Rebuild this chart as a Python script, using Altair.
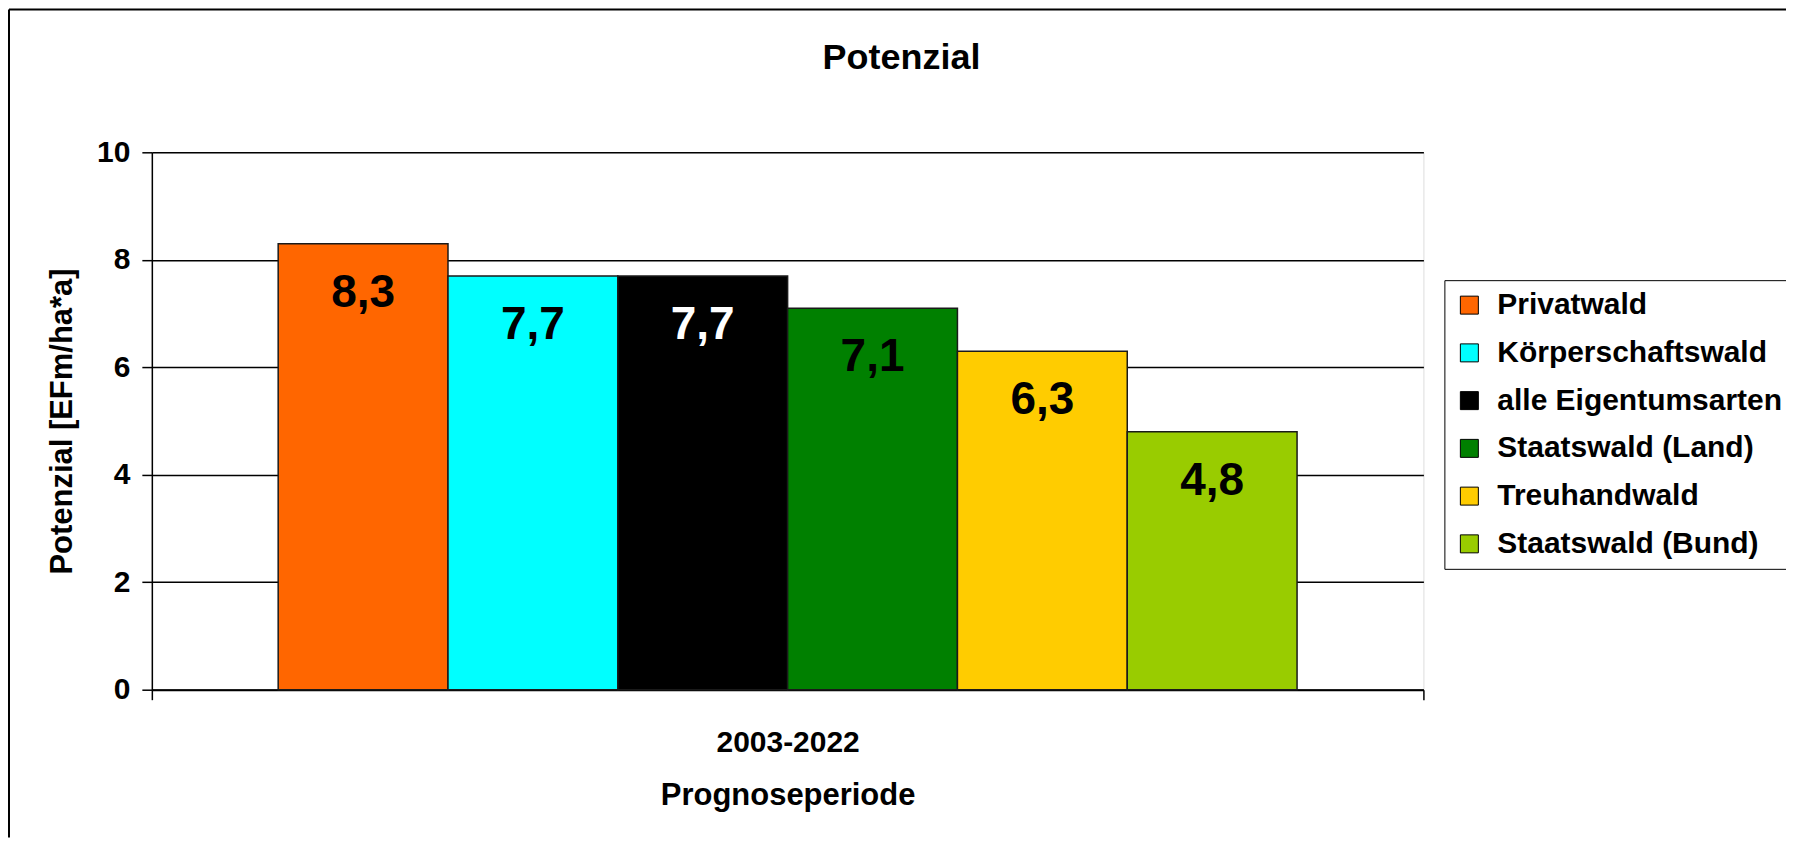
import altair as alt
import pandas as pd

# ---- data ----
categories = ["Privatwald", "Körperschaftswald", "alle Eigentumsarten",
              "Staatswald (Land)", "Treuhandwald", "Staatswald (Bund)"]
values = [8.3, 7.7, 7.7, 7.1, 6.3, 4.8]
colors = ["#FF6600", "#00FFFF", "#000000", "#008000", "#FFCC00", "#99CC00"]
period = ["2003-2022"] * len(categories)
y_ticks = [0, 2, 4, 6, 8, 10]

df = pd.DataFrame({"Periode": period, "Eigentumsart": categories, "Potenzial": values})

W, H = 1273, 538
FONT = "Liberation Sans"

base = alt.Chart(df).transform_calculate(
    lbl="replace(format(datum.Potenzial, '.1f'), '.', ',')"
).encode(
    x=alt.X(
        "Periode:N",
        title="Prognoseperiode",
        scale=alt.Scale(paddingInner=0, paddingOuter=0),
        axis=alt.Axis(
            labelAngle=0, labelFontSize=30, labelFontWeight="bold", labelFont=FONT,
            labelColor="black", labelPadding=28,
            tickBand="extent", tickSize=10, tickColor="black", tickWidth=1.5,
            domainColor="black", domainWidth=2, grid=False,
            titleFontSize=31, titleFontWeight="bold", titleFont=FONT, titleColor="black",
            titleY=91, titleBaseline="top", titleX=W / 2, titleAlign="center",
        ),
    ),
    xOffset=alt.XOffset(
        "Eigentumsart:N", sort=categories,
        scale=alt.Scale(paddingInner=0, paddingOuter=0.744),
    ),
    y=alt.Y(
        "Potenzial:Q",
        title="Potenzial [EFm/ha*a]",
        scale=alt.Scale(domain=[0, 10], nice=False),
        axis=alt.Axis(
            values=y_ticks, labelFontSize=30, labelFontWeight="bold", labelFont=FONT,
            labelColor="black", labelPadding=12,
            tickSize=10, tickColor="black", tickWidth=1.5,
            grid=True, gridColor="black", gridWidth=1.5, gridOpacity=1,
            domainColor="black", domainWidth=1.5,
            titleFontSize=31, titleFontWeight="bold", titleFont=FONT, titleColor="black",
            titleX=-80, titleY=H / 2, titleAlign="center", titleBaseline="alphabetic",
            titleAngle=270,
        ),
    ),
)

bars = base.mark_bar(stroke="#1a1a1a", strokeWidth=1.5).encode(
    color=alt.Color(
        "Eigentumsart:N", sort=categories,
        scale=alt.Scale(domain=categories, range=colors),
        legend=alt.Legend(
            title=None, orient="none", legendX=1294, legendY=128,
            padding=10, strokeColor="black", fillColor="white",
            symbolType="square", symbolSize=324, symbolStrokeColor="black",
            symbolStrokeWidth=1, symbolOpacity=1,
            labelFontSize=30, labelFontWeight="bold", labelFont=FONT, labelColor="black",
            labelOffset=13, rowPadding=17.8, labelLimit=400,
        ),
    )
)

labels = base.mark_text(
    dy=49, baseline="middle", align="center", fontSize=46, fontWeight="bold", font=FONT
).encode(
    text="lbl:N",
    color=alt.condition(
        alt.datum.Eigentumsart == "alle Eigentumsarten", alt.value("white"), alt.value("black")
    ),
)

frame_df = pd.DataFrame({"k": [0]})
left_line = alt.Chart(frame_df).mark_rule(color="black", strokeWidth=2).encode(
    x=alt.value(-143), y=alt.value(-143), y2=alt.value(H + 148)
)
top_line = alt.Chart(frame_df).mark_rule(color="black", strokeWidth=2).encode(
    x=alt.value(-143), x2=alt.value(W + 363), y=alt.value(-143)
)

chart = alt.layer(left_line, top_line, bars, labels).properties(
    width=W, height=H,
    title=alt.Title(
        "Potenzial", fontSize=36, fontWeight="bold", font=FONT, color="black",
        anchor="middle", dx=114, dy=97, offset=0, baseline="alphabetic",
    ),
    autosize=alt.AutoSizeParams(type="none"),
    padding={"left": 144, "top": 144, "right": 363, "bottom": 148},
).configure_view(
    stroke="black", strokeWidth=1.5
).configure(
    background="white", font=FONT
)

chart.save("out.html", embed_options={"renderer": "svg", "actions": False})
